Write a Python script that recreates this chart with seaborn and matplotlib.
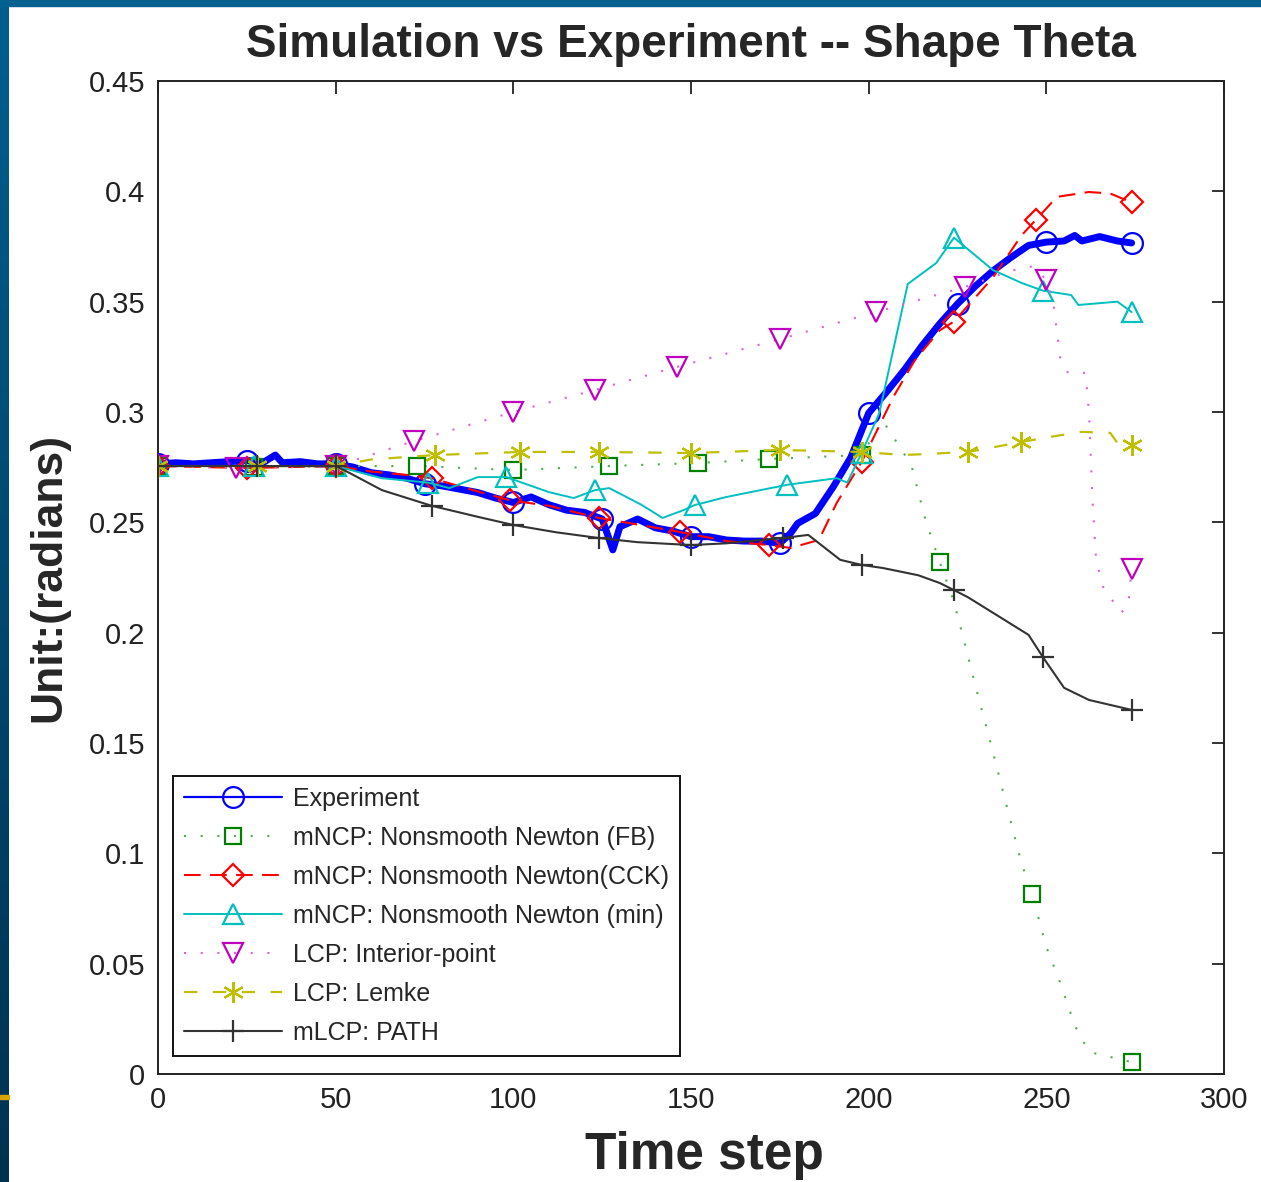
import numpy as np
import pandas as pd
import matplotlib
matplotlib.use("Agg")
import matplotlib.pyplot as plt
import seaborn as sns
from matplotlib.ticker import FuncFormatter
from matplotlib.patches import Rectangle
from matplotlib.colors import LinearSegmentedColormap

# ---------------- data ----------------
exp_t = [0, 5, 10, 15, 20, 25, 30, 33, 35, 40, 45, 50, 55, 60, 65, 70, 75, 80, 85, 90,
         95, 100, 105, 110, 115, 120, 125, 128, 130, 135, 140, 145, 150, 155, 160, 165,
         170, 175, 178, 180, 185, 190, 195, 200, 205, 210, 215, 220, 225, 230, 235, 240,
         245, 250, 255, 258, 260, 265, 270, 274]
exp_v = [0.2765, 0.277, 0.2765, 0.277, 0.2775, 0.278, 0.2775, 0.2805, 0.277, 0.2775,
         0.2765, 0.2765, 0.275, 0.2725, 0.2715, 0.270, 0.2675, 0.2665, 0.265, 0.2635,
         0.261, 0.259, 0.2615, 0.258, 0.2555, 0.2545, 0.2515, 0.2375, 0.248, 0.2515,
         0.2475, 0.246, 0.2435, 0.2435, 0.242, 0.2415, 0.2415, 0.2405, 0.245, 0.2495,
         0.254, 0.266, 0.2795, 0.2995, 0.309, 0.319, 0.330, 0.340, 0.349, 0.357, 0.364,
         0.370, 0.3755, 0.377, 0.3775, 0.380, 0.3775, 0.3795, 0.3775, 0.3766]
exp_marks = [0, 25, 50, 75, 100, 125, 150, 175, 200, 225, 250, 274]

fb_t = [0, 27, 50, 73, 100, 127, 152, 172, 198, 204, 212, 216, 220, 224, 228, 231, 234,
        239, 243, 246, 250, 254, 258, 262, 268, 274]
fb_v = [0.2755, 0.275, 0.2755, 0.2755, 0.2737, 0.2755, 0.2769, 0.2787, 0.2805, 0.296,
        0.276, 0.251, 0.232, 0.214, 0.189, 0.170, 0.152, 0.1205, 0.0956, 0.0815, 0.0576,
        0.041, 0.022, 0.010, 0.0077, 0.0054]
fb_marks = [0, 27, 50, 73, 100, 127, 152, 172, 198, 220, 246, 274]

cck_t = [0, 25, 50, 60, 70, 77, 90, 99, 110, 124, 135, 147, 160, 172, 178, 186, 191, 198,
         207, 213, 220, 224, 235, 243, 247, 253, 262, 268, 274]
cck_v = [0.2755, 0.2746, 0.2755, 0.273, 0.2715, 0.270, 0.264, 0.260, 0.2575, 0.252, 0.249,
         0.2456, 0.2415, 0.2397, 0.2384, 0.242, 0.2588, 0.2773, 0.307, 0.3235, 0.337,
         0.341, 0.361, 0.380, 0.387, 0.3975, 0.3997, 0.399, 0.395]
cck_marks = [0, 25, 50, 77, 99, 124, 147, 172, 198, 224, 247, 274]

min_t = [0, 27, 50, 63, 76, 82, 90, 98, 110, 117, 123, 127, 136, 142, 148, 151, 160, 177,
         191, 194, 198, 203, 211, 219, 224, 235, 243, 249, 257, 259, 270, 274]
min_v = [0.2755, 0.2755, 0.2755, 0.270, 0.268, 0.2655, 0.2705, 0.2705, 0.2637, 0.261,
         0.2646, 0.2655, 0.258, 0.252, 0.2556, 0.2578, 0.2615, 0.267, 0.270, 0.268,
         0.2814, 0.2995, 0.358, 0.3675, 0.379, 0.3643, 0.3585, 0.355, 0.353, 0.3485,
         0.350, 0.3453]
min_marks = [0, 27, 50, 76, 98, 123, 151, 177, 198, 224, 249, 274]

ip_t = [0, 22, 50, 72, 100, 123, 146, 175, 202, 227, 240, 246, 250, 252, 254, 256, 261,
        262, 263, 264, 266, 271, 273, 274]
ip_v = [0.2755, 0.2746, 0.2755, 0.2868, 0.300, 0.310, 0.3204, 0.333, 0.3453, 0.3566,
        0.364, 0.366, 0.360, 0.349, 0.3236, 0.318, 0.3177, 0.300, 0.260, 0.233, 0.2207,
        0.209, 0.212, 0.229]
ip_marks = [0, 22, 50, 72, 100, 123, 146, 175, 202, 227, 250, 274]

lem_t = [0, 28, 50, 60, 78, 102, 124, 150, 175, 198, 210, 228, 243, 251, 260, 268, 270, 274]
lem_v = [0.2755, 0.2755, 0.2755, 0.2785, 0.2805, 0.2819, 0.2819, 0.2814, 0.2828, 0.2819,
         0.2805, 0.2819, 0.2864, 0.2887, 0.291, 0.2905, 0.286, 0.285]
lem_marks = [0, 28, 50, 78, 102, 124, 150, 175, 198, 228, 243, 274]

path_t = [0, 28, 50, 54, 63, 77, 90, 100, 112, 124, 135, 150, 160, 176, 183, 192, 198, 204,
          214, 220, 224, 228, 237, 245, 249, 255, 262, 274]
path_v = [0.2755, 0.2755, 0.2755, 0.2723, 0.2646, 0.2575, 0.2525, 0.2488, 0.2455, 0.2429,
          0.241, 0.2397, 0.2405, 0.2429, 0.2443, 0.233, 0.2307, 0.2293, 0.226, 0.2225,
          0.2193, 0.216, 0.207, 0.199, 0.189, 0.175, 0.1695, 0.165]
path_marks = [0, 28, 50, 77, 100, 124, 150, 176, 198, 224, 249, 274]

labels = ["Experiment", "mNCP: Nonsmooth Newton (FB)", "mNCP: Nonsmooth Newton(CCK)",
          "mNCP: Nonsmooth Newton (min)", "LCP: Interior-point", "LCP: Lemke", "mLCP: PATH"]
x_ticks = [0, 50, 100, 150, 200, 250, 300]
y_ticks = [0, 0.05, 0.1, 0.15, 0.2, 0.25, 0.3, 0.35, 0.4, 0.45]

# ---------------- style ----------------
sns.set_style("white")
plt.rcParams["font.family"] = ["Liberation Sans", "DejaVu Sans"]

fig = plt.figure(figsize=(12.61, 11.82), dpi=100)

# slide decoration (blue border at left/top)
grad_ax = fig.add_axes([0, 0, 9 / 1261, 1])
grad = np.linspace(0, 1, 256).reshape(-1, 1)
cmap = LinearSegmentedColormap.from_list("slide", ["#005f8f", "#00486f", "#00324f"])
grad_ax.imshow(grad, aspect="auto", cmap=cmap, extent=[0, 1, 0, 1], origin="upper")
grad_ax.axis("off")
fig.patches.append(Rectangle((0, 1 - 6 / 1182), 1, 6 / 1182, transform=fig.transFigure,
                             color="#03618f", zorder=5))
fig.patches.append(Rectangle((0, 1 - 1099 / 1182), 9 / 1261, 4 / 1182, transform=fig.transFigure,
                             color="#d9a400", zorder=5))

ax = fig.add_axes([158 / 1261, 1 - 1074 / 1182, (1224 - 158) / 1261, (1074 - 81) / 1182])


def mk_idx(t, marks):
    return [t.index(m) for m in marks]


series = [
    dict(t=exp_t, v=exp_v, marks=exp_marks, color="#0000ff", lc="#0000ff", ls="-", lw=1.6,
         marker="o", ms=15),
    dict(t=fb_t, v=fb_v, marks=fb_marks, color="#008000", lc="#4daf4d", ls=(0, (1, 7)), lw=1.5,
         marker="s", ms=12),
    dict(t=cck_t, v=cck_v, marks=cck_marks, color="#ff0000", lc="#ff0000", ls=(0, (8, 4.5)),
         lw=1.5, marker="D", ms=11),
    dict(t=min_t, v=min_v, marks=min_marks, color="#00bfbf", lc="#00bfbf", ls="-", lw=1.4,
         marker="^", ms=15),
    dict(t=ip_t, v=ip_v, marks=ip_marks, color="#bf00bf", lc="#e060e0", ls=(0, (1, 7)), lw=1.5,
         marker="v", ms=15),
    dict(t=lem_t, v=lem_v, marks=lem_marks, color="#bfbf00", lc="#bfbf00", ls=(0, (6, 7)),
         lw=1.6, marker=(6, 2, 0), ms=15),
    dict(t=path_t, v=path_v, marks=path_marks, color="#333333", lc="#333333", ls="-", lw=1.5,
         marker="+", ms=16),
]

# thick raw experiment trace
sns.lineplot(x=exp_t, y=exp_v, ax=ax, color="#0000ff", lw=5.0, sort=False,
             estimator=None, legend=False, zorder=3)

for s, lab in zip(series, labels):
    sns.lineplot(x=s["t"], y=s["v"], ax=ax, sort=False, estimator=None,
                 color=s["lc"], linestyle=s["ls"], lw=s["lw"],
                 marker=s["marker"], markersize=s["ms"], markevery=mk_idx(s["t"], s["marks"]),
                 markerfacecolor="none", markeredgecolor=s["color"], markeredgewidth=1.6,
                 label=lab, zorder=4)

ax.set_xlim(0, 300)
ax.set_ylim(0, 0.45)
ax.set_xticks(x_ticks)
ax.set_yticks(y_ticks)
ax.yaxis.set_major_formatter(FuncFormatter(lambda v, p: f"{v:g}"))
ax.tick_params(direction="in", length=9, width=1.3, top=True, right=True,
               labelsize=21, pad=9, colors="#222222", labelcolor="#222222")
for sp in ax.spines.values():
    sp.set_linewidth(1.4)
    sp.set_color("#222222")
    sp.set_visible(True)

ax.set_title("Simulation vs Experiment -- Shape Theta", fontsize=33, fontweight="bold",
             pad=17)
ax.set_xlabel("Time step", fontsize=37, fontweight="bold")
ax.xaxis.set_label_coords(0.5 + 13 / 1066, -0.057)
ax.set_ylabel("Unit:(radians)", fontsize=32, fontweight="bold")
ax.yaxis.set_label_coords(-0.0834, 0.5)

leg = ax.legend(loc="lower left", bbox_to_anchor=(15 / 1066, 18 / 993), borderaxespad=0,
                fontsize=18, frameon=True, fancybox=False, framealpha=1,
                edgecolor="#111111", handlelength=3.9, handletextpad=0.45,
                labelspacing=0.6, borderpad=0.45, numpoints=1)
leg.get_frame().set_linewidth(1.4)

fig.savefig("out.png", dpi=100, facecolor="white")
